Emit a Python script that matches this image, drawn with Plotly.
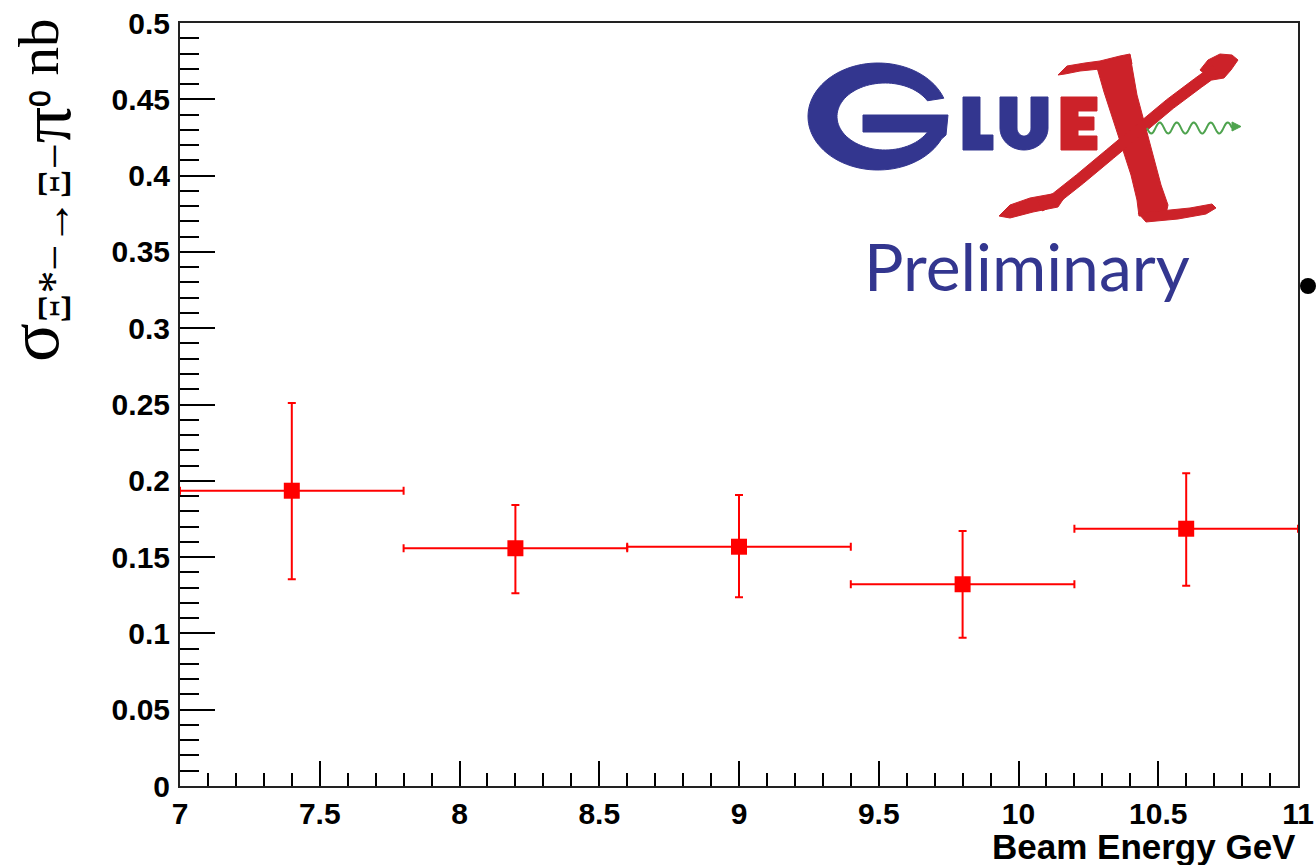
import numpy as np
import plotly.graph_objects as go

# ---------------- data ----------------
energy = [7.4, 8.2, 9.0, 9.8, 10.6]
energy_halfwidth = [0.4, 0.4, 0.4, 0.4, 0.4]
sigma = [0.1935, 0.1558, 0.1568, 0.1322, 0.1686]
err_up = [0.0575, 0.0283, 0.0339, 0.0349, 0.0363]
err_down = [0.0580, 0.0295, 0.0331, 0.0350, 0.0373]

x_range = [7, 11]
y_range = [0, 0.5]

# ---------------- layout geometry (pixels) ----------------
W, H = 1316, 865
L, R, T, B = 180, 18, 23, 79
PW, PH = W - L - R, H - T - B


def P(px, py):
    """pixel -> paper coordinates (for decorations only)"""
    return (px - L) / PW, (H - B - py) / PH


def path_of(points, close=True):
    s = ""
    for i, (px, py) in enumerate(points):
        x, y = P(px, py)
        s += ("M" if i == 0 else "L") + f"{x:.5f},{y:.5f} "
    return s + ("Z" if close else "")


def arc(cx, cy, rx, ry, t0, t1, n=40):
    t = np.radians(np.linspace(t0, t1, n))
    return list(zip(cx + rx * np.cos(t), cy - ry * np.sin(t)))


RED = "#ff0000"
BLUE = "#33368f"
LRED = "#cc2229"
GREEN = "#4ea34e"

fig = go.Figure()
fig.add_trace(go.Scatter(
    x=energy, y=sigma, mode="markers",
    marker=dict(symbol="square", size=16, color=RED),
    error_y=dict(type="data", array=err_up, arrayminus=err_down,
                 color=RED, thickness=2, width=4),
    error_x=dict(type="data", array=energy_halfwidth,
                 color=RED, thickness=2, width=4),
    showlegend=False, cliponaxis=False,
))

tickfont = dict(family="Liberation Sans, Arial, sans-serif", size=30,
                color="black", weight="bold")

fig.update_xaxes(
    range=x_range, dtick=0.5, tick0=7, ticks="inside", ticklen=25,
    tickwidth=2, tickcolor="black", showgrid=False, zeroline=False,
    showline=True, linecolor="#222", linewidth=2, mirror=True,
    tickfont=tickfont, automargin=False,
    minor=dict(dtick=0.1, ticks="inside", ticklen=13, tickwidth=2,
               tickcolor="black", showgrid=False),
)
fig.update_yaxes(
    range=y_range, dtick=0.05, tick0=0, ticks="inside", ticklen=35,
    tickwidth=2, tickcolor="black", showgrid=False, zeroline=False,
    showline=True, linecolor="#222", linewidth=2, mirror=True,
    tickfont=tickfont, ticklabelstandoff=2, automargin=False,
    minor=dict(dtick=0.01, ticks="inside", ticklen=19, tickwidth=2,
               tickcolor="black", showgrid=False),
)

annotations = []
# axis titles
annotations.append(dict(
    text="Beam Energy GeV", xref="paper", yref="paper",
    x=P(1298, 0)[0], y=P(0, 846)[1], xanchor="right", yanchor="middle",
    showarrow=False,
    font=dict(family="Liberation Sans, Arial, sans-serif", size=35,
              color="black", weight="bold")))
annotations.append(dict(
    text=('<span style="font-size:72px">σ</span>'
          '<sub><span style="font-size:46px">Ξ*−→Ξ−</span>'
          '<span style="font-size:72px">π</span>'
          '<span style="font-size:48px">⁰</span></sub> nb'),
    xref="paper", yref="paper", x=P(40, 0)[0], y=P(0, 191)[1],
    xanchor="center", yanchor="middle", textangle=-90, showarrow=False,
    font=dict(family="Liberation Serif, Times New Roman, serif", size=57,
              color="black")))

annotations.append(dict(text="Preliminary", xref="paper", yref="paper",
                        x=P(1027, 0)[0], y=P(0, 265)[1], xanchor="center",
                        yanchor="middle", showarrow=False,
                        font=dict(family="Lato, sans-serif", size=66,
                                  color=BLUE)))

shapes = []


def add_poly(pts, color):
    shapes.append(dict(type="path", xref="paper", yref="paper",
                       path=path_of(pts), fillcolor=color,
                       line=dict(color=color, width=1), layer="above"))


# ---- logo: G ----
gcx, gcy = 878, 116.5
g_pts = arc(gcx, gcy, 70, 53.5, 20, 335, 80)
g_pts += [(946, 135), (948, 115), (863, 115), (863, 132), (927.6, 132)]
g_pts += arc(885, 116.5, 48, 33.5, -27.5, -332, 80)
add_poly(g_pts, BLUE)

# ---- logo: L, U, E ----
add_poly([(963, 97), (980, 97), (980, 135), (993, 135), (993, 150),
          (963, 150)], BLUE)
u_pts = [(1000, 97), (1000, 128)] + arc(1024, 128, 24, 22, 180, 360, 30)
u_pts += [(1048, 97), (1031, 97), (1031, 128)]
u_pts += arc(1024, 128, 7, 8, 360, 180, 20) + [(1017, 97)]
add_poly(u_pts, BLUE)
add_poly([(1061, 97), (1097, 97), (1097, 111), (1078, 111), (1078, 117),
          (1094, 117), (1094, 130), (1078, 130), (1078, 136), (1097, 136),
          (1097, 150), (1061, 150)], LRED)

# ---- logo: calligraphic X ----
top_blade = [(1058, 75), (1067, 66), (1085, 63), (1100, 61), (1120, 56),
             (1130, 54), (1132, 64), (1120, 67), (1100, 69), (1080, 71),
             (1065, 74)]
thick = [(1096, 64), (1104, 92), (1118, 135), (1131, 175), (1137, 200),
         (1139, 216), (1166, 214), (1168, 205), (1161, 185), (1149, 140),
         (1137, 95), (1130, 55)]
bottom_blade = [(1138, 213), (1160, 211), (1190, 208), (1212, 204),
                (1216, 208), (1206, 214), (1178, 219), (1146, 222)]
top_hook = [(1200, 70), (1208, 60), (1220, 54), (1232, 55), (1238, 60),
            (1231, 70), (1224, 78), (1212, 80)]
bl_curl = [(999, 216), (1010, 205), (1030, 198), (1052, 194), (1064, 198),
           (1058, 207), (1033, 212), (1010, 218)]
cl = np.array([(1216, 70), (1198, 83), (1170, 104), (1140, 129), (1110, 154),
               (1080, 179), (1056, 198), (1040, 206)], dtype=float)
d = np.gradient(cl, axis=0)
nrm = np.stack([-d[:, 1], d[:, 0]], axis=1)
nrm /= np.linalg.norm(nrm, axis=1, keepdims=True)
hw = 5.5
thin = [tuple(p) for p in (cl + nrm * hw)] + \
       [tuple(p) for p in (cl - nrm * hw)[::-1]]
for poly in [top_blade, thick, bottom_blade, top_hook, bl_curl, thin]:
    add_poly(poly, LRED)

# green photon wave
wx = np.linspace(1147, 1232, 120)
wy = 128 + 5.5 * np.sin(2 * np.pi * (wx - 1147) / 17.0)
shapes.append(dict(type="path", xref="paper", yref="paper",
                   path=path_of(list(zip(wx, wy)), close=False),
                   line=dict(color=GREEN, width=2)))
shapes.append(dict(type="path", xref="paper", yref="paper",
                   path=path_of([(1232, 122), (1241, 126.5), (1232, 131)]),
                   fillcolor=GREEN, line=dict(color=GREEN, width=1)))

# stray black dot at the right edge
cx0, cy0 = P(1300, 278)
cx1, cy1 = P(1316, 294)
shapes.append(dict(type="circle", xref="paper", yref="paper",
                   x0=cx0, y0=cy1, x1=cx1, y1=cy0,
                   fillcolor="black", line=dict(color="black", width=0)))

fig.update_layout(
    width=W, height=H,
    margin=dict(l=L, r=R, t=T, b=B, pad=0, autoexpand=False),
    paper_bgcolor="white", plot_bgcolor="white",
    annotations=annotations, shapes=shapes,
    showlegend=False,
)

fig.write_html("out.html")
